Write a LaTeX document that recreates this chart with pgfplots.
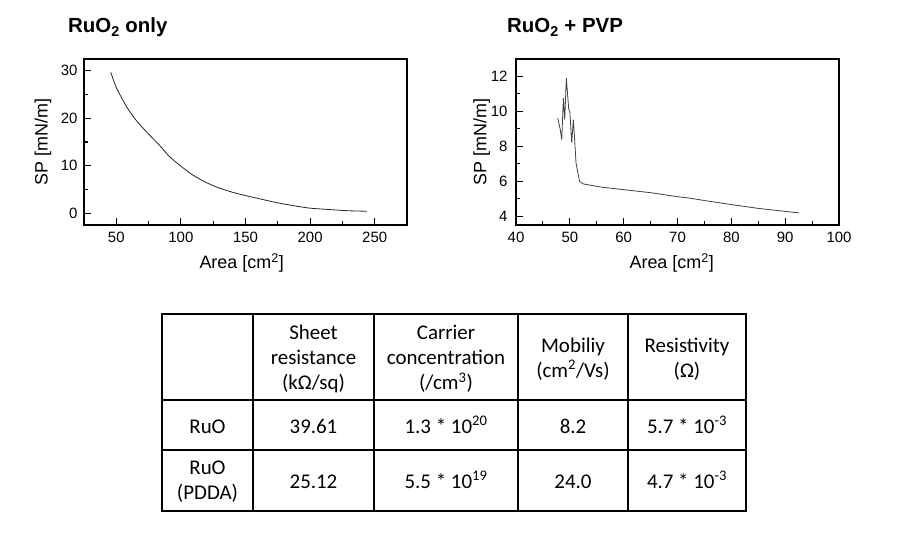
\documentclass[border=0pt]{standalone}
\usepackage{fontspec}
\setmainfont{Liberation Sans}
\newfontfamily\tablefont{Carlito}
\usepackage{pgfplots}
\pgfplotsset{compat=1.18}
\pgfplotsset{
  spstyle/.style={
    anchor=south west, scale only axis, width=323bp, height=166bp,
    tick align=inside, xtick pos=bottom, ytick pos=left,
    major tick length=7bp, minor tick length=3.5bp,
    axis line style={line width=1.3bp},
    every tick/.style={black, line width=1.1bp},
    tick label style={font=\fontsize{15}{17}\selectfont},
    /pgf/number format/assume math mode=true,
    xticklabel style={yshift=-4bp},
    label style={font=\fontsize{18}{20}\selectfont},
    xlabel={Area [cm\textsuperscript{2}]}, ylabel={SP [mN/m]},
  }
}
\begin{document}
\begin{tikzpicture}
\useasboundingbox (0bp,0bp) rectangle (905bp,541bp);
% titles
\node[anchor=base west, inner sep=0pt, font=\bfseries\fontsize{20.5}{24}\selectfont] at (68bp,508bp) {RuO\textsubscript{2} only};
\node[anchor=base west, inner sep=0pt, font=\bfseries\fontsize{20.5}{24}\selectfont] at (507bp,508bp) {RuO\textsubscript{2} + PVP};

\begin{axis}[spstyle, at={(84bp,316bp)},
  xmin=25, xmax=275, ymin=-2.5, ymax=32.5,
  xtick={50,100,150,200,250}, minor xtick={75,125,175,225},
  ytick={0,10,20,30}, minor ytick={5,15,25},
  yticklabel style={xshift=-3bp},
  xlabel style={at={(axis description cs:0.488,-0.261)}, anchor=base},
  ylabel style={at={(axis description cs:-0.127,0.5)}, anchor=center},
]
\addplot[black!85, line width=0.8bp, smooth, tension=0.5] coordinates {
(45.7,29.7) (49.5,26.8) (53.4,24.7) (58.5,22.2) (65.0,19.7) (72.8,17.3)
(83.1,14.4) (90.9,12.0) (98.6,10.2) (108.9,8.1) (119.3,6.5) (129.6,5.3)
(142.6,4.2) (158.1,3.2) (176.1,2.1) (190,1.45) (200,1.05) (218,0.7)
(230,0.5) (244,0.4)};
\end{axis}

\begin{axis}[spstyle, at={(516bp,316bp)},
  xmin=40, xmax=100, ymin=3.5, ymax=13,
  xtick={40,50,60,70,80,90,100}, minor xtick={45,55,65,75,85,95},
  ytick={4,6,8,10,12}, minor ytick={5,7,9,11},
  yticklabel style={xshift=-5bp},
  xlabel style={at={(axis description cs:0.482,-0.261)}, anchor=base},
  ylabel style={at={(axis description cs:-0.106,0.5)}, anchor=center},
]
\addplot[black!75, line width=0.8bp] coordinates {
(47.75,9.62) (48.2,9.0) (48.5,8.38) (48.8,10.76) (49.05,9.53) (49.35,11.9)
(49.8,10.1) (50.0,10.0) (50.35,8.2) (50.65,9.53) (50.85,8.6) (51.15,7.05)
(51.8,6.0) (52.5,5.85) (55.6,5.68) (60,5.52) (65,5.35) (70,5.12) (72,5.05)
(75,4.9) (80,4.67) (85,4.45) (90,4.28) (92.6,4.19)};
\end{axis}

% table
\begin{scope}[x=1bp, y=1bp, line width=1.3bp]
\draw (162,30) rectangle (746,227);
\draw (162,141) -- (746,141);
\draw (162,91) -- (746,91);
\foreach \c in {253,374,518,628} \draw (\c,30) -- (\c,227);
\tikzset{tc/.style={font=\tablefont\fontsize{21}{25}\selectfont, align=center, inner sep=0pt}}
\node[tc, anchor=center] at (313.5,182) {Sheet\\resistance\\(kΩ/sq)};
\node[tc, anchor=center] at (446,182) {Carrier\\concentration\\(/cm\textsuperscript{3})};
\node[tc, anchor=center] at (573,182) {Mobiliy\\(cm\textsuperscript{2}/Vs)};
\node[tc, anchor=center] at (687,182) {Resistivity\\(Ω)};
\node[tc, anchor=base] at (207.5,108) {RuO};
\node[tc, anchor=base] at (313.5,108) {39.61};
\node[tc, anchor=base] at (446,108) {1.3 * 10\textsuperscript{20}};
\node[tc, anchor=base] at (573,108) {8.2};
\node[tc, anchor=base] at (687,108) {5.7 * 10\textsuperscript{-3}};
\node[tc, anchor=center] at (207.5,59) {RuO\\(PDDA)};
\node[tc, anchor=base] at (313.5,53) {25.12};
\node[tc, anchor=base] at (446,53) {5.5 * 10\textsuperscript{19}};
\node[tc, anchor=base] at (573,53) {24.0};
\node[tc, anchor=base] at (687,53) {4.7 * 10\textsuperscript{-3}};
\end{scope}
\end{tikzpicture}
\end{document}
